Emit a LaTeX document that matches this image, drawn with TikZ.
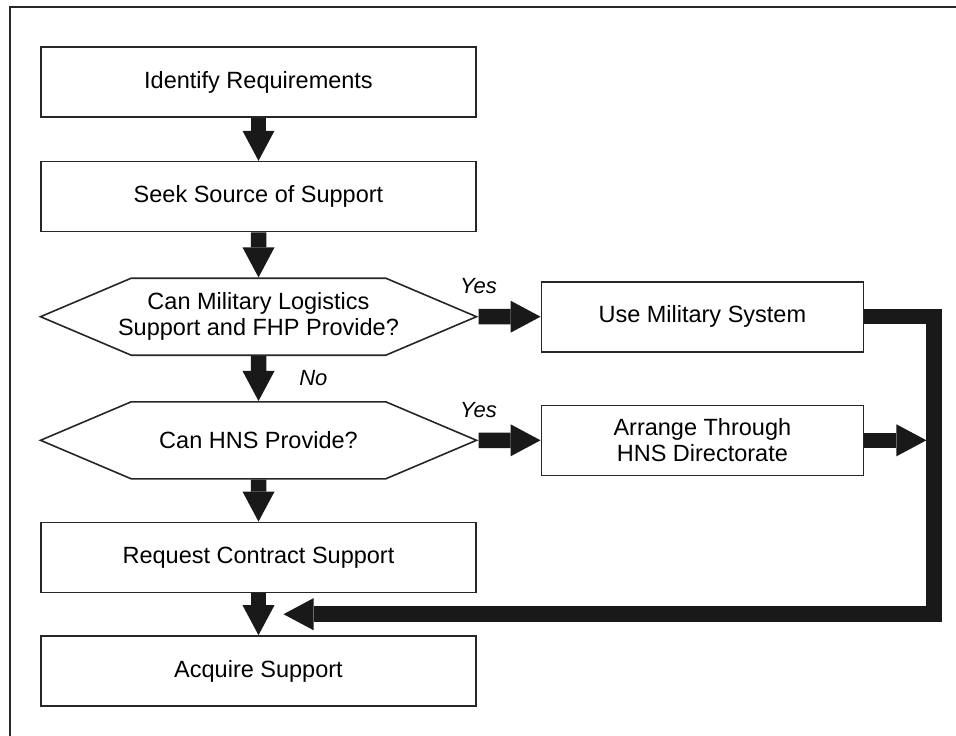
\documentclass[tikz,border=0pt]{standalone}
\usepackage{fontspec}
\setmainfont{Liberation Sans}
\usetikzlibrary{arrows.meta, positioning, shapes.symbols, calc}
\tikzset{
  process/.style={
    rectangle, draw=black!85, line width=1.6pt, fill=white,
    minimum width=435pt, minimum height=70pt, inner sep=0pt,
    align=center, text=black, font=\fontsize{23.5}{26}\selectfont
  },
  sidebox/.style={process, minimum width=322pt},
  decision/.style={
    signal, signal to=west and east, signal pointer angle=46,
    draw=black!85, line width=1.6pt, fill=white,
    minimum width=436pt, minimum height=77pt, inner sep=0pt,
    align=center, text=black, font=\fontsize{23.5}{26}\selectfont
  },
  fatarrow/.style={line width=15.5pt, draw=black!90,
    -{Triangle[width=32pt,length=30pt,line width=0pt]}},
  answer/.style={inner sep=0pt, text=black,
    font=\itshape\fontsize{22}{24}\selectfont}
}
\begin{document}
\begin{tikzpicture}[x=1pt, y=-1pt, node distance=43pt]
\useasboundingbox (0,0) rectangle (956,736);
\draw[line width=2.5pt, draw=black!85] (10,736) -- (10,7) -- (956,7);

\node[process] (ident) at (258.5,82) {Identify Requirements};
\node[process, below=of ident] (seek) {Seek Source of Support};
\node[decision, inner xsep=-14pt, below=45pt of seek] (milq) {Can Military Logistics\\Support and FHP Provide?};
\node[decision, below=45pt of milq] (hnsq) {Can HNS Provide?};
\node[process, below=42pt of hnsq] (req) {Request Contract Support};
\node[process, below=42pt of req] (acq) {Acquire Support};
\node[sidebox, right=62pt of milq] (mil) {Use Military System};
\node[sidebox, right=62pt of hnsq] (arr) {Arrange Through\\HNS Directorate};

% return path
\coordinate[right=70pt of mil.east] (bus);
\coordinate (merge) at ($(req.south)!0.5!(acq.north)+(25,0)$);

\draw[fatarrow] (ident) -- (seek);
\draw[fatarrow] (seek) -- (milq);
\draw[fatarrow] (milq) -- node[answer, right=33pt] {No} (hnsq);
\draw[fatarrow] (milq) -- node[answer, above=15pt, pos=0] {Yes} (mil);
\draw[fatarrow] (hnsq) -- node[answer, above=15pt, pos=0] {Yes} (arr);
\draw[fatarrow] (hnsq) -- (req);
\draw[fatarrow] (req) -- (acq);
\draw[fatarrow, shorten >=7.75pt] (arr) -- (arr -| bus);
\draw[fatarrow] (mil) -- (bus) |- (merge);

\end{tikzpicture}
\end{document}
